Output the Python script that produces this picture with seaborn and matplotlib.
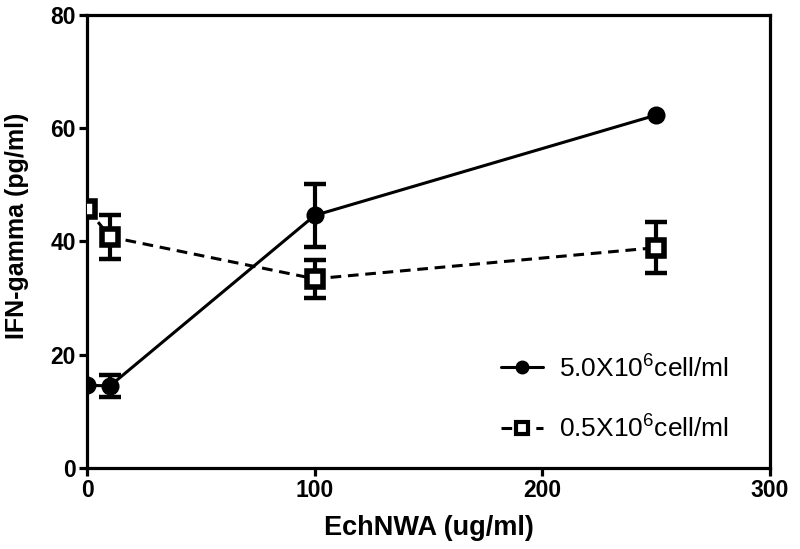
import matplotlib
matplotlib.use("Agg")
import matplotlib.pyplot as plt
from matplotlib.lines import Line2D
import seaborn as sns
import pandas as pd
import numpy as np

dose = [0, 10, 100, 250]
high_mean = [14.6, 14.5, 44.6, 62.3]
high_err = [0.0, 2.0, 5.5, 0.0]
low_mean = [45.8, 40.8, 33.4, 38.9]
low_err = [0.0, 3.9, 3.3, 4.5]
series_names = ["5.0X10$^{6}$cell/ml", "0.5X10$^{6}$cell/ml"]

sns.set_theme(style="ticks")
plt.rcParams['font.family'] = ['Liberation Sans', 'DejaVu Sans']
plt.rcParams['text.color'] = 'black'
plt.rcParams['axes.labelcolor'] = 'black'
plt.rcParams['xtick.color'] = 'black'
plt.rcParams['ytick.color'] = 'black'
plt.rcParams['mathtext.fontset'] = 'custom'
plt.rcParams['mathtext.rm'] = 'Liberation Sans'

df = pd.concat([
    pd.DataFrame({"dose": dose, "ifn": high_mean, "err": high_err, "series": series_names[0]}),
    pd.DataFrame({"dose": dose, "ifn": low_mean, "err": low_err, "series": series_names[1]}),
])

fig = plt.figure(figsize=(8, 5.49), dpi=100)
ax = fig.add_axes([0.109, 0.1475, 0.8535, 0.8255])

styles = {
    series_names[0]: dict(marker="o", ls="-", mfc="black", ms=11.5, mew=1.5),
    series_names[1]: dict(marker="s", ls=(0, (3.5, 2.2)), mfc="white", ms=11.5, mew=4),
}
for name in series_names:
    sub = df[df.series == name]
    st = styles[name]
    has = sub[sub.err > 0]
    ax.errorbar(has.dose, has.ifn, yerr=has.err, fmt="none", ecolor="black",
                elinewidth=3, capsize=8, capthick=3.2, zorder=2)
    sns.lineplot(data=sub, x="dose", y="ifn", ax=ax, color="black", lw=2.2,
                 linestyle=st["ls"], marker=st["marker"], markerfacecolor=st["mfc"],
                 markeredgecolor="black", markeredgewidth=st["mew"], markersize=st["ms"],
                 zorder=3, legend=False)

ax.set_xlim(0, 300)
ax.set_ylim(0, 80)
ax.set_xticks([0, 100, 200, 300])
ax.set_yticks([0, 20, 40, 60, 80])
for side in ["left", "bottom", "top", "right"]:
    ax.spines[side].set_linewidth(2.3)
    ax.spines[side].set_color("black")
ax.tick_params(axis="both", which="major", length=6, width=2.3, color="black",
               labelsize=16.5, pad=2, top=False, right=False)
for lbl in ax.get_xticklabels() + ax.get_yticklabels():
    lbl.set_fontweight("bold")
ax.set_xlabel("EchNWA (ug/ml)", fontsize=19.5, fontweight="bold", labelpad=9)
ax.set_ylabel("IFN-gamma (pg/ml)", fontsize=18, fontweight="bold")
ax.yaxis.set_label_coords(-0.085, 0.535)

handles = [
    Line2D([], [], color="black", lw=2.2, ls="-", marker="o", mfc="black", mec="black", ms=9),
    Line2D([], [], color="black", lw=2.2, ls=(0, (3.5, 2.2)), marker="s", mfc="white",
           mec="black", mew=3, ms=8),
]
leg = ax.legend(handles, series_names, loc="lower right", bbox_to_anchor=(0.975, 0.005),
                frameon=False, fontsize=19, handlelength=1.6, labelspacing=1.25,
                handletextpad=0.6)

fig.savefig("out.png", dpi=100)
